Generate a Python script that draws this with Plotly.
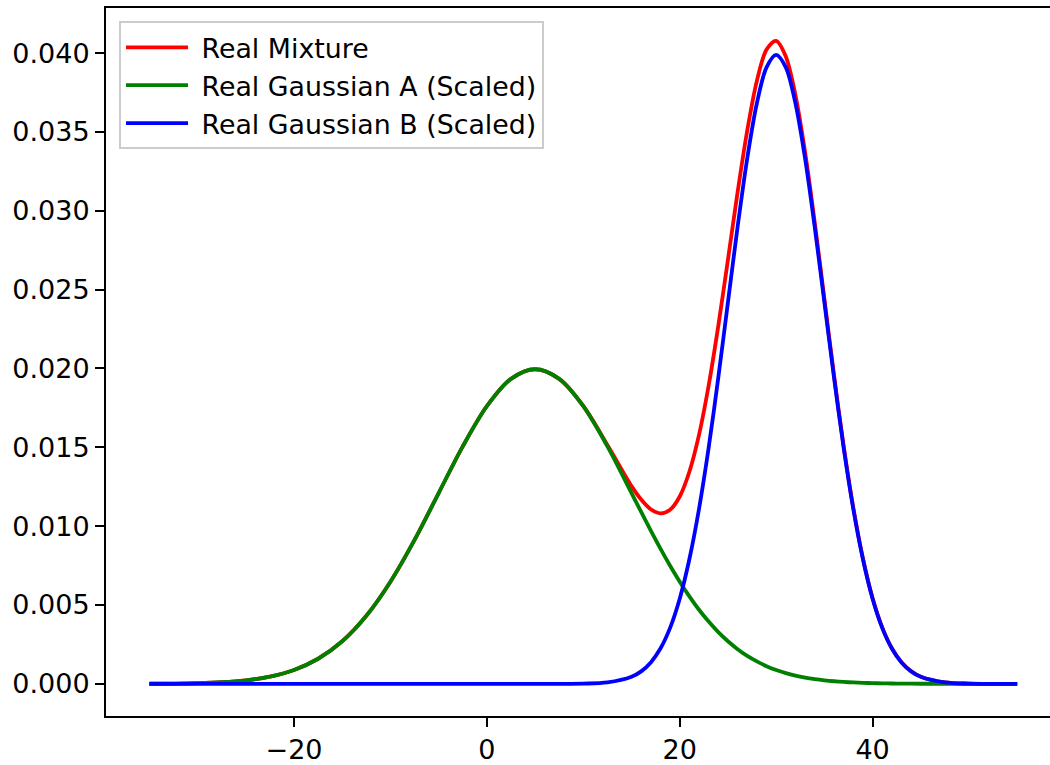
import plotly.graph_objects as go

x_vals = [-35, -32.5, -30, -27.5, -25, -22.5, -20, -17.5, -15, -12.5, -10, -7.5, -5, -2.5,
          0, 2.5, 5, 7.5, 10, 12.5, 15, 16, 17, 18, 19, 20, 21, 22, 23, 24, 25, 26, 27, 28,
          29, 30, 31, 32, 33, 34, 35, 36, 37, 38, 39, 40, 41, 42, 43, 44, 45, 47.5, 50, 52.5, 55]

gauss_a = [0.0000067, 0.0000176, 0.0000436, 0.000101, 0.000222, 0.000455, 0.000877, 0.00159,
           0.00270, 0.00432, 0.00648, 0.00913, 0.01210, 0.01506, 0.01761, 0.01934, 0.01995,
           0.01934, 0.01761, 0.01506, 0.01210, 0.01090, 0.00971, 0.00857, 0.00749, 0.00648,
           0.00555, 0.00470, 0.00395, 0.00328, 0.00270, 0.00220, 0.00177, 0.00142, 0.00112,
           0.000877, 0.000679, 0.000521, 0.000396, 0.000298, 0.000222, 0.000163, 0.000119,
           0.0000862, 0.0000616, 0.0000436, 0.0000306, 0.0000212, 0.0000146, 0.0000099,
           0.0000067, 0.0000024, 0.0000008, 0.0000002, 0.0000001]

gauss_b = [0.0, 0.0, 0.0, 0.0, 0.0, 0.0, 0.0, 0.0, 0.0, 0.0, 0.0, 0.0, 0.0, 0.0,
           0.0, 0.0, 0.0000002, 0.0000016, 0.0000134, 0.0000873, 0.000443, 0.00079, 0.00136,
           0.00224, 0.00355, 0.00540, 0.00790, 0.01109, 0.01497, 0.01942, 0.02420, 0.02897,
           0.03332, 0.03682, 0.03910, 0.03989, 0.03910, 0.03682, 0.03332, 0.02897, 0.02420,
           0.01942, 0.01497, 0.01109, 0.00790, 0.00540, 0.00355, 0.00224, 0.00136, 0.00079,
           0.000443, 0.0000873, 0.0000134, 0.0000016, 0.0000002]

mixture = [0.0000067, 0.0000176, 0.0000436, 0.000101, 0.000222, 0.000455, 0.000877, 0.00159,
           0.00270, 0.00432, 0.00648, 0.00913, 0.01210, 0.01506, 0.01761, 0.01934, 0.01995,
           0.01934, 0.01762, 0.01515, 0.01254, 0.01169, 0.01107, 0.01081, 0.01104, 0.01188,
           0.01345, 0.01579, 0.01892, 0.02270, 0.02690, 0.03117, 0.03509, 0.03824, 0.04022,
           0.04077, 0.03978, 0.03734, 0.03372, 0.02927, 0.02442, 0.01958, 0.01509, 0.01118,
           0.00796, 0.00544, 0.00358, 0.00226, 0.00137, 0.00080, 0.00045, 0.0000897,
           0.0000142, 0.0000018, 0.0000003]

x_tick_vals = [-20, 0, 20, 40]
x_tick_text = ["\u221220", "0", "20", "40"]
y_tick_vals = [0.000, 0.005, 0.010, 0.015, 0.020, 0.025, 0.030, 0.035, 0.040]

series_names = ["Real Mixture", "Real Gaussian A (Scaled)", "Real Gaussian B (Scaled)"]
series_values = [mixture, gauss_a, gauss_b]
series_colors = ["#ff0000", "#008000", "#0000ff"]

FONT = "DejaVu Sans"

fig = go.Figure()
for name, ys, color in zip(series_names, series_values, series_colors):
    fig.add_trace(go.Scatter(
        x=x_vals, y=ys, name="\u00a0" + name, mode="lines",
        line=dict(color=color, width=3.8, shape="spline", smoothing=0.9),
    ))

fig.update_layout(
    width=1050, height=765,
    margin=dict(l=106, r=0, t=8, b=46),
    paper_bgcolor="white", plot_bgcolor="white",
    font=dict(family=FONT, size=27, color="black"),
    showlegend=True,
    legend=dict(
        x=0.0138, y=0.981, xanchor="left", yanchor="top",
        bgcolor="rgba(255,255,255,0.8)", bordercolor="#cccccc", borderwidth=2,
        font=dict(family=FONT, size=26.8, color="black"),
        itemwidth=62, tracegroupgap=4,
    ),
)

fig.update_xaxes(
    range=[-39.5, 58.4], tickvals=x_tick_vals, ticktext=x_tick_text,
    showgrid=False, zeroline=False, showline=True, linecolor="black", linewidth=2,
    mirror=True, ticks="outside", ticklen=9, tickwidth=2, tickcolor="black",
    tickfont=dict(family=FONT, size=27, color="black"),
)
fig.update_yaxes(
    range=[-0.00204, 0.04286], tickvals=y_tick_vals, tickformat=".3f",
    showgrid=False, zeroline=False, showline=True, linecolor="black", linewidth=2,
    mirror=False, ticks="outside", ticklen=9, tickwidth=2, tickcolor="black",
    tickfont=dict(family=FONT, size=27, color="black"),
)

fig.write_html("out.html")
